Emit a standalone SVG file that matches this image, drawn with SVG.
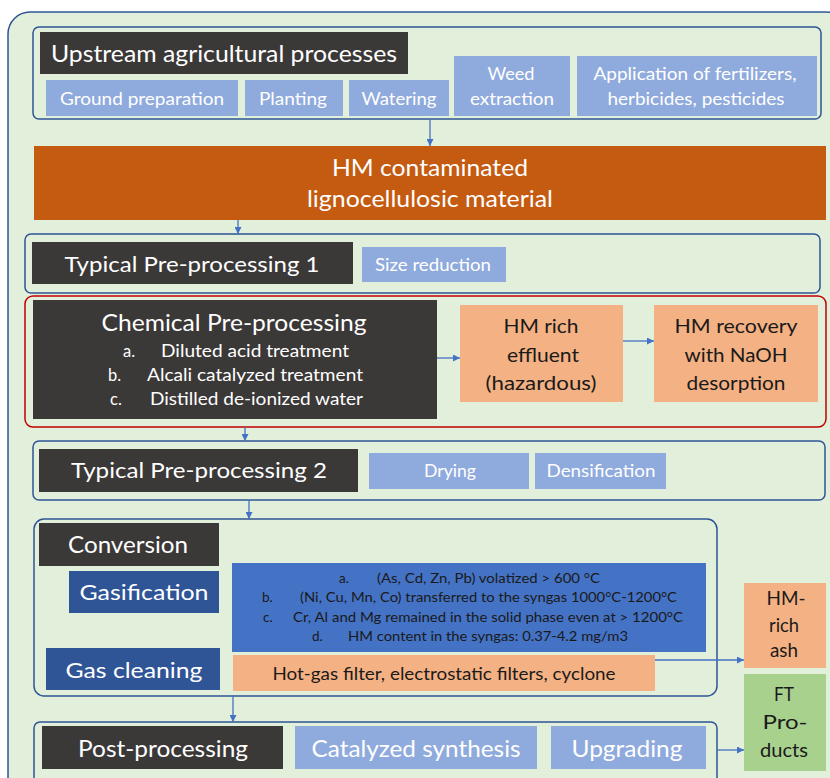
<svg xmlns="http://www.w3.org/2000/svg" width="830" height="778" viewBox="0 0 830 778">
  <defs>
    <marker id="arr" viewBox="0 0 10 10" refX="10" refY="5" markerWidth="7" markerHeight="7" markerUnits="userSpaceOnUse" orient="auto">
      <path d="M0,0 L10,5 L0,10 z" fill="#4472c4"/>
    </marker>
    <style>
      text { font-family: Lato, "Liberation Sans", sans-serif; text-anchor: middle; }
      .s { text-anchor: start; }
      .w { fill: #ffffff; }
      .k { fill: #1a1a1a; }
      .dark { fill: #3b3838; }
      .lb { fill: #8faadc; }
      .peach { fill: #f4b183; }
      .navy { fill: #2f5597; }
      .mid { fill: #4472c4; }
      .grp { fill: none; stroke: #2f5597; stroke-width: 1.5; }
      .conn line { stroke: #4472c4; stroke-width: 1.3; marker-end: url(#arr); }
    </style>
  </defs>

  <!-- background panel -->
  <rect x="8" y="12" width="840" height="790" rx="22" fill="#e2efda" stroke="#2f5597" stroke-width="1.5"/>

  <!-- upstream agricultural processes -->
  <g id="upstream">
    <rect class="grp" x="33" y="27" width="788" height="92" rx="6"/>
    <rect class="dark" x="40" y="32" width="368" height="42"/>
    <text class="w" x="224" y="62" font-size="23" textLength="346" lengthAdjust="spacingAndGlyphs">Upstream agricultural processes</text>
    <g id="ground-prep">
      <rect class="lb" x="46" y="80" width="192" height="36"/>
      <text class="w" x="142" y="105" font-size="17.5" textLength="164" lengthAdjust="spacingAndGlyphs">Ground preparation</text>
    </g>
    <g id="planting">
      <rect class="lb" x="245" y="80" width="98" height="36"/>
      <text class="w" x="293" y="105" font-size="17.5" textLength="68" lengthAdjust="spacingAndGlyphs">Planting</text>
    </g>
    <g id="watering">
      <rect class="lb" x="349" y="80" width="100" height="36"/>
      <text class="w" x="399" y="105" font-size="17.5" textLength="75" lengthAdjust="spacingAndGlyphs">Watering</text>
    </g>
    <g id="weed">
      <rect class="lb" x="454" y="56" width="116" height="60"/>
      <text class="w" x="511" y="80" font-size="17.5" textLength="47" lengthAdjust="spacingAndGlyphs">Weed</text>
      <text class="w" x="512" y="105" font-size="17.5" textLength="84" lengthAdjust="spacingAndGlyphs">extraction</text>
    </g>
    <g id="fertilizers">
      <rect class="lb" x="577" y="56" width="240" height="60"/>
      <text class="w" x="695" y="80" font-size="17.5" textLength="203" lengthAdjust="spacingAndGlyphs">Application of fertilizers,</text>
      <text class="w" x="696" y="105" font-size="17.5" textLength="177" lengthAdjust="spacingAndGlyphs">herbicides, pesticides</text>
    </g>
  </g>

  <!-- contaminated feedstock -->
  <g id="feedstock">
    <rect x="34" y="146" width="792" height="74" fill="#c55a11"/>
    <text class="w" x="430" y="176" font-size="23.5" textLength="196" lengthAdjust="spacingAndGlyphs">HM contaminated</text>
    <text class="w" x="430" y="207" font-size="23.5" textLength="246" lengthAdjust="spacingAndGlyphs">lignocellulosic material</text>
  </g>

  <!-- typical pre-processing 1 -->
  <g id="preproc1">
    <rect class="grp" x="25" y="234" width="795" height="59" rx="6"/>
    <rect class="dark" x="32" y="242" width="321" height="42"/>
    <text class="w" x="192" y="272" font-size="22" textLength="255" lengthAdjust="spacingAndGlyphs">Typical Pre-processing 1</text>
    <g id="size-reduction">
      <rect class="lb" x="362" y="247" width="144" height="35"/>
      <text class="w" x="433" y="271" font-size="16.5" textLength="116" lengthAdjust="spacingAndGlyphs">Size reduction</text>
    </g>
  </g>

  <!-- chemical pre-processing -->
  <g id="chemical">
    <rect x="25" y="296" width="801" height="131" rx="8" fill="none" stroke="#c00000" stroke-width="1.5"/>
    <rect class="dark" x="33" y="300" width="404" height="119"/>
    <text class="w" x="234" y="331" font-size="22.5" textLength="265" lengthAdjust="spacingAndGlyphs">Chemical Pre-processing</text>
    <g class="w" font-size="16.5">
      <text class="s" x="123" y="357">a.</text>
      <text class="s" x="161" y="357" textLength="188" lengthAdjust="spacingAndGlyphs">Diluted acid treatment</text>
      <text class="s" x="108" y="381">b.</text>
      <text class="s" x="147" y="381" textLength="216" lengthAdjust="spacingAndGlyphs">Alcali catalyzed treatment</text>
      <text class="s" x="110" y="405">c.</text>
      <text class="s" x="150" y="405" textLength="213" lengthAdjust="spacingAndGlyphs">Distilled de-ionized water</text>
    </g>
  </g>
  <g id="effluent">
    <rect class="peach" x="460" y="305" width="163" height="97"/>
    <text class="k" x="541" y="333" font-size="19.5" textLength="75" lengthAdjust="spacingAndGlyphs">HM rich</text>
    <text class="k" x="543" y="362" font-size="19.5" textLength="72" lengthAdjust="spacingAndGlyphs">effluent</text>
    <text class="k" x="541" y="390" font-size="19.5" textLength="111" lengthAdjust="spacingAndGlyphs">(hazardous)</text>
  </g>
  <g id="recovery">
    <rect class="peach" x="654" y="305" width="164" height="97"/>
    <text class="k" x="736" y="333" font-size="19.5" textLength="123" lengthAdjust="spacingAndGlyphs">HM recovery</text>
    <text class="k" x="736" y="362" font-size="19.5" textLength="103" lengthAdjust="spacingAndGlyphs">with NaOH</text>
    <text class="k" x="736" y="390" font-size="19.5" textLength="99" lengthAdjust="spacingAndGlyphs">desorption</text>
  </g>

  <!-- typical pre-processing 2 -->
  <g id="preproc2">
    <rect class="grp" x="33" y="441" width="792" height="59" rx="6"/>
    <rect class="dark" x="39" y="449" width="319" height="43"/>
    <text class="w" x="199" y="478" font-size="22" textLength="256" lengthAdjust="spacingAndGlyphs">Typical Pre-processing 2</text>
    <g id="drying">
      <rect class="lb" x="369" y="453" width="160" height="36"/>
      <text class="w" x="450" y="477" font-size="16.5" textLength="52" lengthAdjust="spacingAndGlyphs">Drying</text>
    </g>
    <g id="densification">
      <rect class="lb" x="535" y="453" width="131" height="36"/>
      <text class="w" x="601" y="477" font-size="16.5" textLength="109" lengthAdjust="spacingAndGlyphs">Densification</text>
    </g>
  </g>

  <!-- conversion -->
  <g id="conversion">
    <rect class="grp" x="34" y="519" width="683" height="177" rx="10"/>
    <rect class="dark" x="39" y="523" width="180" height="43"/>
    <text class="w" x="128" y="553" font-size="22.5" textLength="120" lengthAdjust="spacingAndGlyphs">Conversion</text>
    <g id="gasification">
      <rect class="navy" x="69" y="571" width="150" height="42"/>
      <text class="w" x="144" y="600" font-size="22" textLength="129" lengthAdjust="spacingAndGlyphs">Gasification</text>
    </g>
    <g id="gasification-notes">
      <rect class="mid" x="232" y="563" width="474" height="89"/>
      <g font-size="13.5" class="k">
        <text class="s" x="339" y="583">a.</text>
        <text class="s" x="377" y="583" textLength="223" lengthAdjust="spacingAndGlyphs">(As, Cd, Zn, Pb) volatized &gt; 600 °C</text>
        <text class="s" x="262" y="602">b.</text>
        <text class="s" x="300" y="602" textLength="377" lengthAdjust="spacingAndGlyphs">(Ni, Cu, Mn, Co) transferred to the syngas 1000°C-1200°C</text>
        <text class="s" x="263" y="622">c.</text>
        <text class="s" x="293" y="622" textLength="390" lengthAdjust="spacingAndGlyphs">Cr, Al and Mg remained in the solid phase even at &gt; 1200°C</text>
        <text class="s" x="312" y="641">d.</text>
        <text class="s" x="348" y="641" textLength="280" lengthAdjust="spacingAndGlyphs">HM content in the syngas: 0.37-4.2 mg/m3</text>
      </g>
    </g>
    <g id="gas-cleaning">
      <rect class="navy" x="46" y="648" width="174" height="42"/>
      <text class="w" x="134" y="678" font-size="22" textLength="137" lengthAdjust="spacingAndGlyphs">Gas cleaning</text>
    </g>
    <g id="filters">
      <rect class="peach" x="233" y="655" width="422" height="36"/>
      <text class="k" x="444" y="680" font-size="17" textLength="343" lengthAdjust="spacingAndGlyphs">Hot-gas filter, electrostatic filters, cyclone</text>
    </g>
  </g>

  <!-- outputs -->
  <g id="ash">
    <rect class="peach" x="744" y="583" width="82" height="85"/>
    <text class="k" x="786" y="605" font-size="19" textLength="39" lengthAdjust="spacingAndGlyphs">HM-</text>
    <text class="k" x="784" y="632" font-size="19" textLength="30" lengthAdjust="spacingAndGlyphs">rich</text>
    <text class="k" x="784" y="657" font-size="19" textLength="28" lengthAdjust="spacingAndGlyphs">ash</text>
  </g>
  <g id="ft-products">
    <rect x="744" y="674" width="82" height="97" fill="#a9d18e"/>
    <text class="k" x="784" y="701" font-size="20" textLength="20" lengthAdjust="spacingAndGlyphs">FT</text>
    <text class="k" x="785" y="729" font-size="20" textLength="45" lengthAdjust="spacingAndGlyphs">Pro-</text>
    <text class="k" x="784" y="757" font-size="20" textLength="48" lengthAdjust="spacingAndGlyphs">ducts</text>
  </g>

  <!-- post-processing -->
  <g id="postproc">
    <rect class="grp" x="34" y="722" width="683" height="70" rx="6"/>
    <rect class="dark" x="42" y="726" width="241" height="43"/>
    <text class="w" x="163" y="757" font-size="23" textLength="170" lengthAdjust="spacingAndGlyphs">Post-processing</text>
    <g id="synthesis">
      <rect class="lb" x="295" y="726" width="242" height="43"/>
      <text class="w" x="416" y="757" font-size="22.5" textLength="209" lengthAdjust="spacingAndGlyphs">Catalyzed synthesis</text>
    </g>
    <g id="upgrading">
      <rect class="lb" x="551" y="726" width="155" height="43"/>
      <text class="w" x="627" y="757" font-size="22.5" textLength="111" lengthAdjust="spacingAndGlyphs">Upgrading</text>
    </g>
  </g>

  <!-- connectors -->
  <g class="conn" id="connectors">
    <line x1="430" y1="119" x2="430" y2="146"/>
    <line x1="238" y1="220" x2="238" y2="234"/>
    <line x1="437" y1="358" x2="460" y2="358"/>
    <line x1="623" y1="341" x2="654" y2="341"/>
    <line x1="245" y1="427" x2="245" y2="441"/>
    <line x1="249" y1="500" x2="249" y2="519"/>
    <line x1="655" y1="660" x2="744" y2="660"/>
    <line x1="233" y1="696" x2="233" y2="722"/>
    <line x1="717" y1="750" x2="744" y2="750"/>
  </g>
</svg>
